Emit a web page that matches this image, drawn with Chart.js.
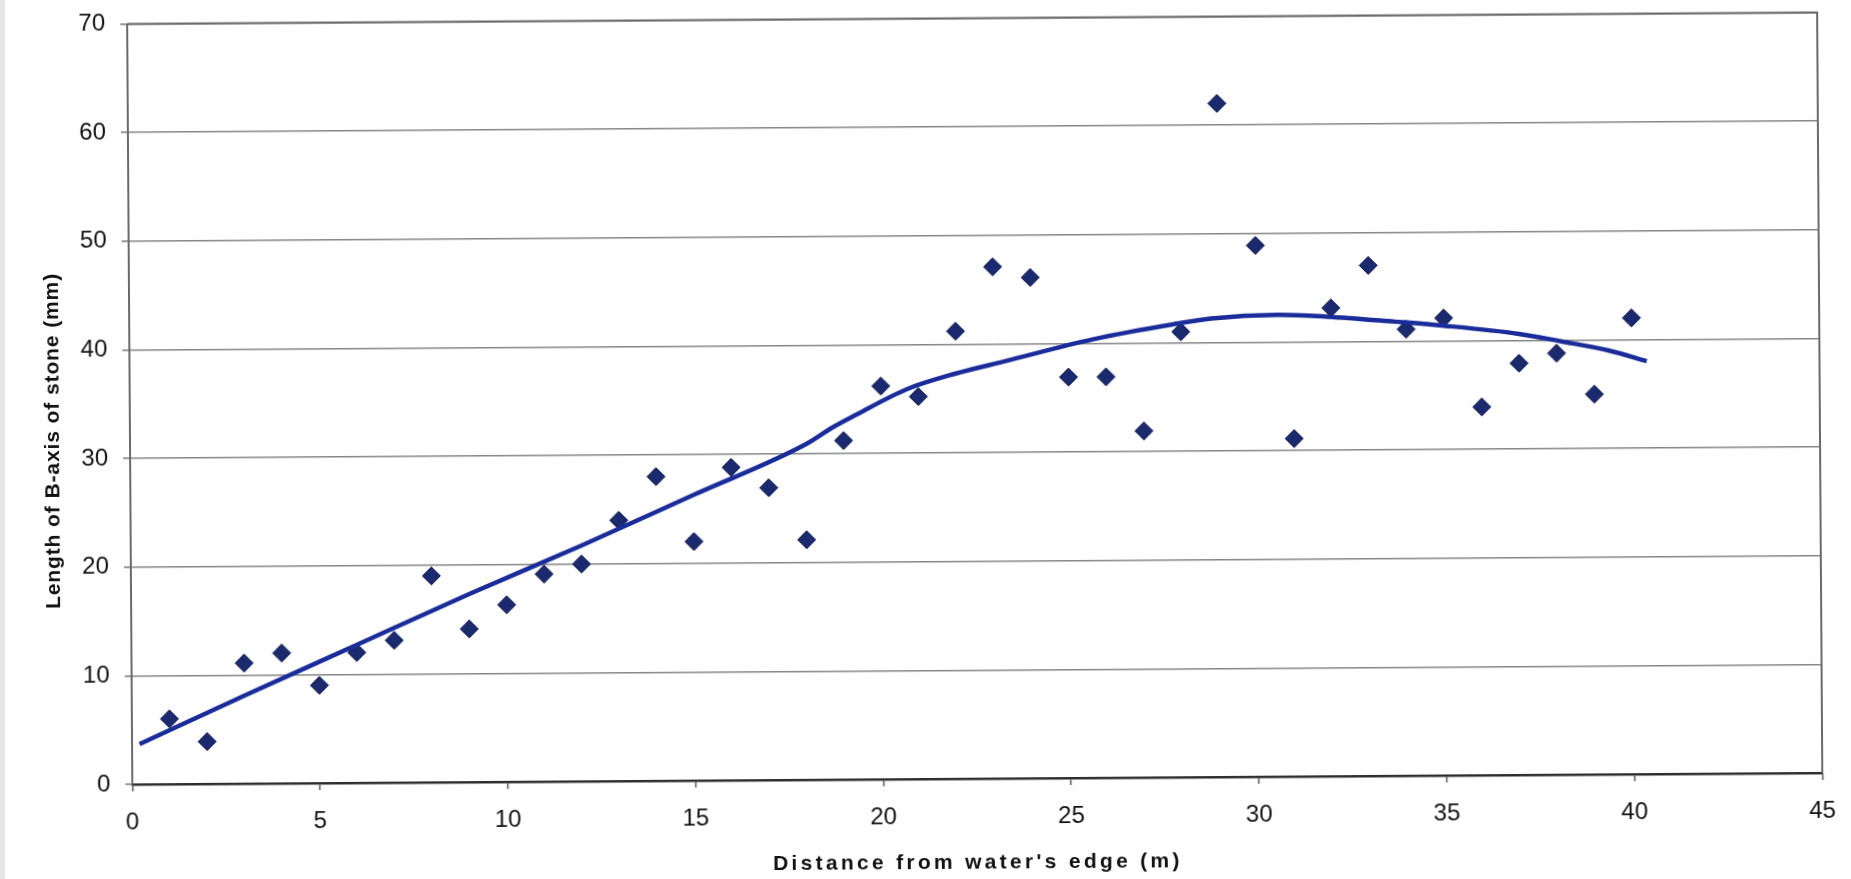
<!DOCTYPE html>
<html>
<head>
<meta charset="utf-8">
<title>Length of B-axis of stone</title>
<script src="https://cdn.jsdelivr.net/npm/chart.js@4.4.1/dist/chart.umd.min.js"></script>
<style>
  html, body { margin: 0; padding: 0; background: #fff; overflow: hidden; }
  #stoneChart { position: absolute; left: 0; top: 0; transform: rotate(-0.39deg); }
  #strip { position: absolute; left: 0; top: 0; width: 5px; height: 879px; background: #e5e5e5; }
</style>
</head>
<body>
<canvas id="stoneChart" width="1851" height="879"></canvas>
<div id="strip"></div>
<script>
  // one stone measured every metre up the beach
  var distances = [1, 2, 3, 4, 5, 6, 7, 8, 9, 10,
                   11, 12, 13, 14, 15, 16, 17, 18, 19, 20,
                   21, 22, 23, 24, 25, 26, 27, 28, 29, 30,
                   31, 32, 33, 34, 35, 36, 37, 38, 39, 40];
  var stoneLengths = [6.0, 3.9, 11.1, 12.0, 9.0, 12.0, 13.1, 19.0, 14.1, 16.3,
                      19.1, 20.0, 24.0, 28.0, 22.0, 28.8, 26.9, 22.1, 31.2, 36.2,
                      35.2, 41.2, 47.1, 46.1, 36.9, 36.9, 31.9, 41.0, 62.0, 48.9,
                      31.1, 43.1, 47.0, 41.1, 42.1, 33.9, 37.9, 38.8, 35.0, 42.0];

  // trend line
  var trendX = [0.2, 3, 6, 9, 12, 15, 18, 18.7, 19.3, 20.7, 22, 23.3,
                25.7, 27.8, 28.8, 30.6, 31.9, 33.7, 35, 37, 38.1, 39.4, 40.4];
  var trendY = [3.7, 8.1, 12.7, 17.3, 21.7, 26.3, 30.9, 32.4, 33.5, 35.9, 37.3, 38.4,
                40.4, 41.7, 42.2, 42.5, 42.3, 41.8, 41.4, 40.6, 39.9, 39.0, 38.0];

  var xTicks = [0, 5, 10, 15, 20, 25, 30, 35, 40, 45];
  var yTicks = [0, 10, 20, 30, 40, 50, 60, 70];

  var xTitle = "Distance from water's edge (m)";
  var yTitle = "Length of B-axis of stone (mm)";

  var FONT = "'Liberation Sans', Arial, sans-serif";

  // box round the plot area (right edge has no axis of its own)
  var plotFrame = {
    id: 'plotFrame',
    afterDraw: function (chart) {
      var a = chart.chartArea;
      var c = chart.ctx;
      c.save();
      c.strokeStyle = '#6a6a6a';
      c.lineWidth = 2;
      c.beginPath();
      c.moveTo(a.left, a.top);
      c.lineTo(a.right, a.top);
      c.lineTo(a.right, a.bottom);
      c.stroke();
      c.restore();
    }
  };

  // axis titles, spaced out like the scanned original
  var axisTitles = {
    id: 'axisTitles',
    afterDraw: function (chart) {
      var c = chart.ctx;
      var a = chart.chartArea;
      c.save();
      c.fillStyle = '#111';
      c.textAlign = 'center';
      c.textBaseline = 'middle';

      c.font = 'bold 21px ' + FONT;
      c.letterSpacing = '3.3px';
      c.fillText(xTitle, (a.left + a.right) / 2, 863);

      c.translate(53, 435);
      c.rotate(-Math.PI / 2);
      c.font = 'bold 21px ' + FONT;
      c.letterSpacing = '0.9px';
      c.fillText(yTitle, 0, 0);
      c.restore();
    }
  };

  var points = distances.map(function (d, i) { return { x: d, y: stoneLengths[i] }; });
  var trend = trendX.map(function (d, i) { return { x: d, y: trendY[i] }; });

  var ctx = document.getElementById('stoneChart').getContext('2d');
  var chart = new Chart(ctx, {
    type: 'scatter',
    data: {
      datasets: [{
        label: 'Stones',
        data: points,
        pointStyle: 'rectRot',
        pointRadius: 9,
        pointBackgroundColor: '#1b2a6e',
        pointBorderColor: '#0f1a4d',
        pointBorderWidth: 1,
        order: 1
      }, {
        label: 'Trend',
        data: trend,
        showLine: true,
        pointRadius: 0,
        borderColor: '#1a2c9a',
        borderWidth: 4.5,
        cubicInterpolationMode: 'monotone',
        order: 0
      }]
    },
    options: {
      responsive: false,
      animation: false,
      layout: { padding: { top: 18.5, right: 31, bottom: 0, left: 0 } },
      plugins: {
        legend: { display: false },
        tooltip: { enabled: false }
      },
      scales: {
        x: {
          type: 'linear',
          min: xTicks[0],
          max: xTicks[xTicks.length - 1],
          afterFit: function (s) { s.height = 100; },
          afterBuildTicks: function (s) { s.ticks = xTicks.map(function (v) { return { value: v }; }); },
          grid: { drawOnChartArea: false, tickLength: 7, tickColor: '#555', tickWidth: 1.5 },
          border: { color: '#2e2e2e', width: 2.5 },
          ticks: { color: '#111', padding: 17, font: { family: FONT, size: 24 }, maxRotation: 0 }
        },
        y: {
          min: yTicks[0],
          max: yTicks[yTicks.length - 1],
          // fixed axis width, and no extra room above the top label
          afterFit: function (s) { s.width = 130; s.paddingTop = 0; s.paddingBottom = 0; },
          afterBuildTicks: function (s) { s.ticks = yTicks.map(function (v) { return { value: v }; }); },
          grid: { color: '#858585', lineWidth: 1.5, tickLength: 7, tickColor: '#777' },
          border: { color: '#6a6a6a', width: 2 },
          ticks: { color: '#111', padding: 15, font: { family: FONT, size: 24 } }
        }
      }
    },
    plugins: [plotFrame, axisTitles]
  });
</script>
</body>
</html>
